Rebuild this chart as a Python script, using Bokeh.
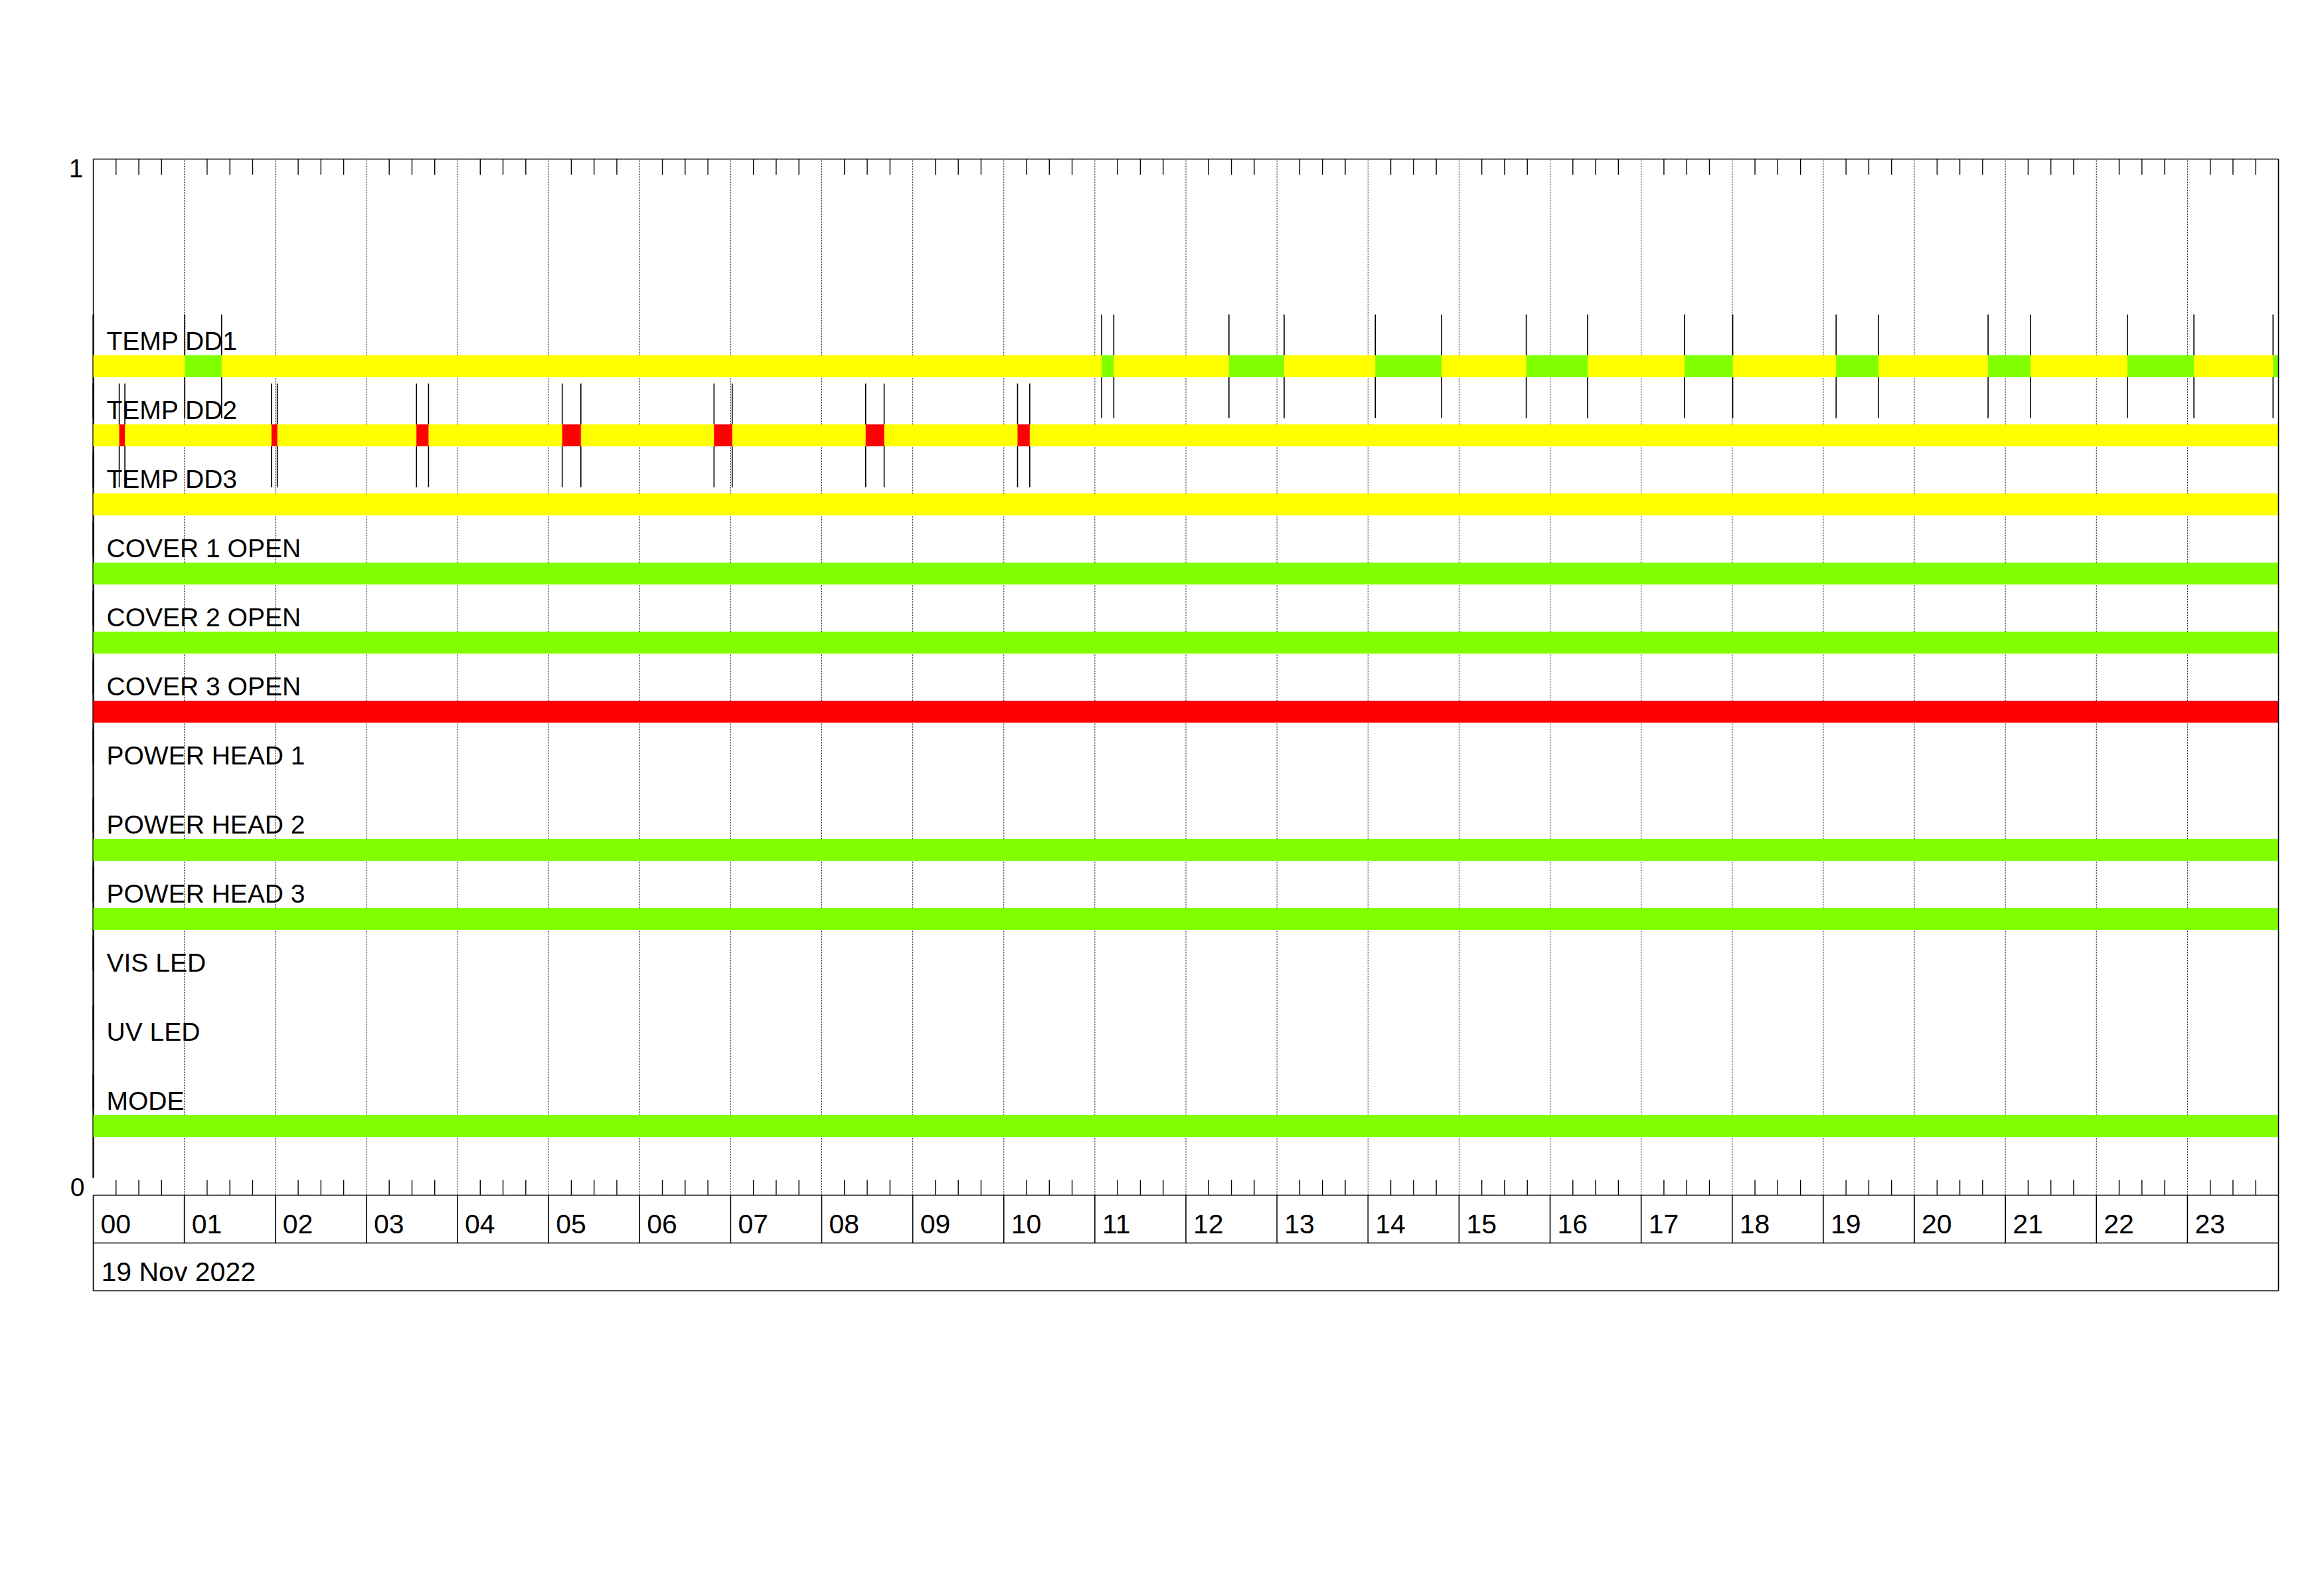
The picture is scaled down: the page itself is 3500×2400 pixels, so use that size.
from bokeh.plotting import figure
from bokeh.models import Range1d, ColumnDataSource
from bokeh.embed import file_html
from bokeh.resources import INLINE
from bokeh.core.properties import value

# ---------------- data ----------------
rows = ["TEMP DD1", "TEMP DD2", "TEMP DD3", "COVER 1 OPEN", "COVER 2 OPEN",
        "COVER 3 OPEN", "POWER HEAD 1", "POWER HEAD 2", "POWER HEAD 3",
        "VIS LED", "UV LED", "MODE"]
# base state of each row over the whole day (None = no data)
row_state = ["warn", "warn", "warn", "ok", "ok", "alarm", None, "ok", "ok",
             None, None, "ok"]

# TEMP DD1: intervals (hours) in "ok" state
dd1_ok_start = [1.005, 11.075, 12.473, 14.080, 15.738, 17.476, 19.141, 20.810, 22.340, 23.940]
dd1_ok_end = [1.409, 11.208, 13.079, 14.808, 16.412, 18.006, 19.606, 21.276, 23.071, 24.000]

# TEMP DD2: intervals (hours) in "alarm" state
dd2_alarm_start = [0.285, 1.957, 3.549, 5.150, 6.817, 8.483, 10.151]
dd2_alarm_end = [0.347, 2.021, 3.682, 5.355, 7.017, 8.686, 10.285]

hour_labels = ["%02d" % h for h in range(24)]
date_label = "19 Nov 2022"
y_tick_labels = ["0", "1"]
day_hours = 24

# ---------------- styles / layout ----------------
state_color = {"ok": "#7fff00", "warn": "#ffff00", "alarm": "#ff0000"}
FONT = value("Liberation Sans")

W, H = 3484, 2384
FX0, FX24 = 140, 3431        # frame px of hour 0 / hour 24
FY1, FY0 = 239, 1799         # frame px of y=1 / y=0
sx = (FX24 - FX0) / day_hours
sy = (FY0 - FY1)


def dx(px):
    return px / sx


def dy(px):
    return px / sy


p = figure(width=W, height=H,
           x_range=Range1d(-FX0 / sx, (W - FX0) / sx),
           y_range=Range1d(-(H - FY0) / sy, 1 + FY1 / sy),
           output_backend="svg", toolbar_location=None,
           x_axis_type=None, y_axis_type=None, min_border=0,
           outline_line_color=None, background_fill_color="white",
           border_fill_color="white")

n_slots = 15
row_y = [(len(rows) - i) / n_slots for i in range(len(rows))]

# hour dashed grid lines
p.segment(x0=list(range(1, day_hours)), x1=list(range(1, day_hours)),
          y0=[0] * (day_hours - 1), y1=[1] * (day_hours - 1),
          line_color="black", line_width=1, line_dash="2 2")

# minor ticks (15 min)
mt = [h + q for h in range(day_hours) for q in (0.25, 0.5, 0.75)]
p.segment(x0=mt, x1=mt, y0=[1] * len(mt), y1=[1 - dy(23.5)] * len(mt),
          line_color="black", line_width=1.4)
p.segment(x0=mt, x1=mt, y0=[0] * len(mt), y1=[dy(23)] * len(mt),
          line_color="black", line_width=1.4)

# transition lines
half_line = dy(78)
tx, ty0, ty1 = [], [], []
for i, (starts, ends) in {0: (dd1_ok_start, dd1_ok_end),
                          1: (dd2_alarm_start, dd2_alarm_end)}.items():
    for s, e in zip(starts, ends):
        for v in (s, e):
            if v < day_hours:
                tx.append(v)
                ty0.append(row_y[i] - half_line)
                ty1.append(row_y[i] + half_line)
p.segment(x0=tx, x1=tx, y0=ty0, y1=ty1, line_color="black", line_width=1.6)

# left border (thin) and start lines for each row
p.segment(x0=[0], x1=[0], y0=[1], y1=[row_y[-1] - half_line],
          line_color="black", line_width=1.4)
p.segment(x0=[0] * len(rows), x1=[0] * len(rows),
          y0=[y - half_line for y in row_y], y1=[y + half_line for y in row_y],
          line_color="black", line_width=2.2)

# bars
half_bar = dy(16.5)
L, R, T, B, C = [], [], [], [], []
for i, st in enumerate(row_state):
    if st is None:
        continue
    L.append(0); R.append(day_hours)
    T.append(row_y[i] + half_bar); B.append(row_y[i] - half_bar)
    C.append(state_color[st])
for s, e in zip(dd1_ok_start, dd1_ok_end):
    L.append(s); R.append(e)
    T.append(row_y[0] + half_bar); B.append(row_y[0] - half_bar)
    C.append(state_color["ok"])
for s, e in zip(dd2_alarm_start, dd2_alarm_end):
    L.append(s); R.append(e)
    T.append(row_y[1] + half_bar); B.append(row_y[1] - half_bar)
    C.append(state_color["alarm"])
p.quad(source=ColumnDataSource(dict(left=L, right=R, top=T, bottom=B, color=C)),
       left="left", right="right", top="top", bottom="bottom",
       fill_color="color", line_color=None)

# row labels
p.text(x=[dx(20)] * len(rows), y=[y + dy(38) for y in row_y], text=rows,
       text_font=FONT, text_font_size="39px", text_color="black",
       text_align="left", text_baseline="alphabetic")

# borders
p.segment(x0=[0], x1=[day_hours], y0=[1], y1=[1], line_color="black", line_width=1.6)
p.segment(x0=[day_hours], x1=[day_hours], y0=[1], y1=[-dy(144)],
          line_color="black", line_width=1.6)
p.segment(x0=[0, 0, 0], x1=[day_hours] * 3, y0=[0, -dy(72), -dy(144)],
          y1=[0, -dy(72), -dy(144)], line_color="black", line_width=1.6)
p.segment(x0=[0], x1=[0], y0=[0], y1=[-dy(144)], line_color="black", line_width=1.6)
hs = list(range(1, day_hours))
p.segment(x0=hs, x1=hs, y0=[0] * len(hs), y1=[-dy(72)] * len(hs),
          line_color="black", line_width=1.6)

# hour labels
p.text(x=[h + dx(11) for h in range(day_hours)], y=[-dy(43)] * day_hours,
       text=hour_labels, text_font=FONT, text_font_size="41px",
       text_color="black", text_align="left", text_baseline="alphabetic")
# date label
p.text(x=[dx(12)], y=[-dy(115)], text=[date_label], text_font=FONT,
       text_font_size="41px", text_color="black", text_align="left",
       text_baseline="alphabetic")
# y labels
p.text(x=[-dx(13), -dx(15)], y=[dy(12), 1 - dy(14)], text=y_tick_labels,
       text_font=FONT, text_font_size="39px", text_color="black",
       text_align="right", text_baseline="alphabetic")

open("out.html", "w").write(file_html(p, INLINE))
